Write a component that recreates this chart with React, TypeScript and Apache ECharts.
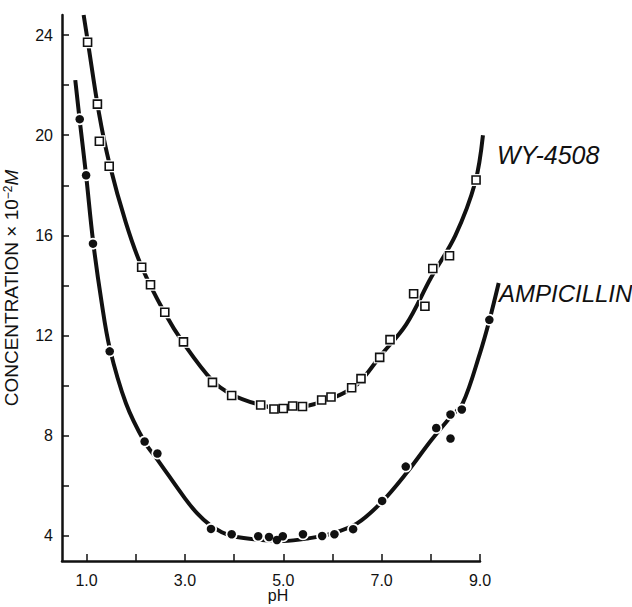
import React, { useEffect, useRef } from "react";
import * as echarts from "echarts";

// Axis ticks and labels
const phTicks = [1, 2, 3, 4, 5, 6, 7, 8, 9];
const phLabels = [1, 3, 5, 7, 9];
const concTicks = [4, 6, 8, 10, 12, 14, 16, 18, 20, 22, 24];
const concLabels = [4, 8, 12, 16, 20, 24];

// WY-4508 measured points (open squares)
const wyPH = [1.02, 1.22, 1.26, 1.46, 2.12, 2.30, 2.59, 2.97, 3.56, 3.95, 4.54, 4.81, 5.0, 5.19, 5.39, 5.78, 5.97, 6.39, 6.58, 6.96, 7.17, 7.65, 7.88, 8.04, 8.38, 8.92];
const wyConc = [23.71, 21.24, 19.76, 18.76, 14.73, 14.03, 12.93, 11.75, 10.13, 9.61, 9.23, 9.07, 9.09, 9.19, 9.17, 9.43, 9.55, 9.92, 10.28, 11.13, 11.84, 13.67, 13.17, 14.68, 15.19, 18.21];

// Ampicillin measured points (filled circles)
const ampPH = [0.86, 0.99, 1.13, 1.47, 2.18, 2.44, 3.53, 3.95, 4.49, 4.71, 4.87, 4.99, 5.40, 5.79, 6.04, 6.42, 7.01, 7.49, 8.11, 8.40, 8.40, 8.63, 9.19];
const ampConc = [20.64, 18.4, 15.67, 11.37, 7.77, 7.29, 4.28, 4.07, 3.99, 3.96, 3.84, 3.99, 4.07, 4.0, 4.07, 4.27, 5.4, 6.77, 8.31, 7.89, 8.85, 9.05, 12.63];

// Hand-drawn fitted curves
const wyCurvePH = [0.94, 1.02, 1.25, 1.46, 1.8, 2.12, 2.59, 2.97, 3.56, 3.95, 4.5, 5.0, 5.5, 6.0, 6.5, 7.0, 7.5, 8.0, 8.5, 8.9, 9.06];
const wyCurveConc = [24.8, 23.8, 20.9, 18.9, 16.5, 14.75, 12.9, 11.7, 10.2, 9.65, 9.25, 9.08, 9.2, 9.5, 10.05, 11.25, 12.45, 14.3, 16.0, 18.1, 20.0];
const ampCurvePH = [0.77, 0.86, 0.99, 1.13, 1.3, 1.47, 1.8, 2.18, 2.44, 3.0, 3.25, 3.5, 3.75, 4.0, 4.5, 5.0, 5.5, 6.0, 6.5, 7.0, 7.5, 8.0, 8.4, 8.65, 9.0, 9.19, 9.38];
const ampCurveConc = [22.2, 20.6, 18.4, 15.8, 13.4, 11.5, 9.3, 7.75, 7.05, 5.5, 4.9, 4.45, 4.15, 3.98, 3.85, 3.8, 3.9, 4.1, 4.5, 5.35, 6.5, 7.8, 8.75, 9.3, 11.3, 12.6, 14.1];

const zip = (a: number[], b: number[]) => a.map((v, i) => [v, b[i]]);

const FONT = "'Liberation Sans', Arial, Helvetica, sans-serif";
const INK = "#111";

// plot geometry: visible axes span pH 0.5–9.0; a hidden twin grid spans 0.5–9.5
// at the same scale so the hand-drawn curves may run past the axis end.
const LEFT = 62;
const RIGHT = 152;
const TOP = 15;
const BOTTOM = 46;
const W = 632;
const unit = (W - LEFT - RIGHT) / (9 - 0.5);
const RIGHT2 = W - LEFT - unit * (9.5 - 0.5);

export default function App() {
  const ref = useRef<HTMLDivElement>(null);
  useEffect(() => {
    if (!ref.current) return;
    const chart = echarts.init(ref.current, null, { renderer: "svg" });
    const curveBase = {
      type: "line" as const,
      xAxisIndex: 1,
      yAxisIndex: 1,
      showSymbol: false,
      smooth: 0.35,
      clip: false,
      silent: true,
      z: 2,
      lineStyle: { color: INK, width: 4 },
    };
    const yBase = { type: "value" as const, min: 3, max: 24.8 };
    chart.setOption({
      animation: false,
      backgroundColor: "#fff",
      textStyle: { fontFamily: FONT },
      grid: [
        { left: LEFT, right: RIGHT, top: TOP, bottom: BOTTOM, containLabel: false, outerBoundsMode: "none" },
        { left: LEFT, right: RIGHT2, top: TOP, bottom: BOTTOM, containLabel: false, outerBoundsMode: "none" },
      ],
      xAxis: [
        {
          type: "value",
          gridIndex: 0,
          min: 0.5,
          max: 9,
          axisLine: { lineStyle: { color: INK, width: 2.5 } },
          axisTick: { inside: true, length: 7, customValues: phTicks, lineStyle: { color: INK, width: 1.5 } },
          axisLabel: {
            customValues: phLabels,
            formatter: (v: number) => v.toFixed(1),
            fontSize: 16,
            color: INK,
            margin: 11,
            fontFamily: FONT,
          },
          splitLine: { show: false },
        },
        { type: "value", gridIndex: 1, min: 0.5, max: 9.5, show: false },
      ],
      yAxis: [
        {
          ...yBase,
          gridIndex: 0,
          axisLine: { show: true, lineStyle: { color: INK, width: 2.5 } },
          axisTick: { show: true, inside: true, length: 7, customValues: concTicks, lineStyle: { color: INK, width: 1.5 } },
          axisLabel: {
            customValues: concLabels,
            fontSize: 16,
            color: INK,
            margin: 9,
            fontFamily: FONT,
          },
          splitLine: { show: false },
        },
        { ...yBase, gridIndex: 1, show: false },
      ],
      graphic: [
        {
          type: "text",
          x: 278,
          y: 595,
          style: {
            text: "pH",
            font: `16px ${FONT}`,
            fill: INK,
            textAlign: "center",
            textVerticalAlign: "middle",
            align: "center",
            verticalAlign: "middle",
          },
        },
        {
          type: "text",
          x: 11,
          y: 288,
          rotation: Math.PI / 2,
          style: {
            text: "CONCENTRATION × 10{sup|−2}{it|M}",
            font: `19px ${FONT}`,
            fill: INK,
            textAlign: "center",
            textVerticalAlign: "middle",
            align: "center",
            verticalAlign: "middle",
            rich: {
              sup: { fontSize: 12, verticalAlign: "top", fill: INK, fontFamily: FONT, padding: [0, 0, 6, 0] },
              it: { fontSize: 19, fontStyle: "italic", fill: INK, fontFamily: FONT },
            },
          },
        },
        {
          type: "text",
          x: 497,
          y: 155,
          style: {
            text: "WY-4508",
            font: `italic 25px ${FONT}`,
            fill: INK,
            textVerticalAlign: "middle",
            verticalAlign: "middle",
          },
        },
        {
          type: "text",
          x: 499,
          y: 293,
          style: {
            text: "AMPICILLIN",
            font: `italic 24px ${FONT}`,
            fill: INK,
            textVerticalAlign: "middle",
            verticalAlign: "middle",
          },
        },
      ],
      series: [
        { ...curveBase, name: "WY-4508 curve", data: zip(wyCurvePH, wyCurveConc) },
        { ...curveBase, name: "Ampicillin curve", data: zip(ampCurvePH, ampCurveConc) },
        {
          type: "scatter",
          name: "WY halo",
          xAxisIndex: 1,
          yAxisIndex: 1,
          symbol: "rect",
          symbolSize: 12,
          clip: false,
          silent: true,
          z: 3,
          itemStyle: { color: "#fff", opacity: 1 },
          data: zip(wyPH, wyConc),
        },
        {
          type: "scatter",
          name: "Ampicillin halo",
          xAxisIndex: 1,
          yAxisIndex: 1,
          symbol: "circle",
          symbolSize: 12,
          clip: false,
          silent: true,
          z: 3,
          itemStyle: { color: "#fff", opacity: 1 },
          data: zip(ampPH, ampConc),
        },
        {
          type: "scatter",
          name: "WY-4508",
          xAxisIndex: 1,
          yAxisIndex: 1,
          symbol: "rect",
          symbolSize: 8,
          clip: false,
          z: 4,
          itemStyle: { color: "#fff", borderColor: INK, borderWidth: 1.6, opacity: 1 },
          data: zip(wyPH, wyConc),
        },
        {
          type: "scatter",
          name: "AMPICILLIN",
          xAxisIndex: 1,
          yAxisIndex: 1,
          symbol: "circle",
          symbolSize: 8.5,
          clip: false,
          z: 4,
          itemStyle: { color: INK, opacity: 1 },
          data: zip(ampPH, ampConc),
        },
      ],
    });
    return () => chart.dispose();
  }, []);
  return (
    <div
      ref={ref}
      style={{ position: "absolute", left: 0, top: 0, width: 632, height: 607, background: "#fff" }}
    />
  );
}
